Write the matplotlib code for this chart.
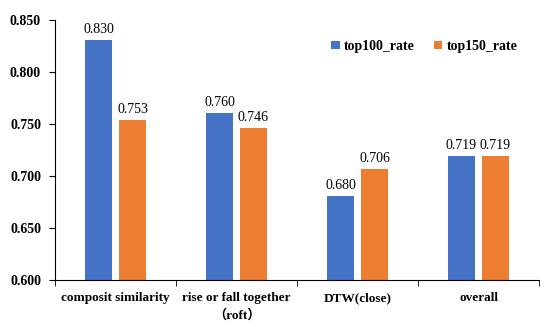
import numpy as np
import matplotlib.pyplot as plt

categories = ['composit similarity', 'rise or fall together\n（roft）', 'DTW(close)', 'overall']
top100 = [0.830, 0.760, 0.680, 0.719]
top150 = [0.753, 0.746, 0.706, 0.719]
yticks = [0.600, 0.650, 0.700, 0.750, 0.800, 0.850]

plt.rcParams['font.family'] = ['Liberation Serif', 'Noto Sans CJK SC']

fig = plt.figure(figsize=(5.5, 3.27), dpi=100)
ax = fig.add_axes([0.1, 0.145, 0.88, 0.795])

x = np.arange(len(categories))
w = 0.22
b1 = ax.bar(x - 0.14, top100, w, color='#4472C4', label='top100_rate')
b2 = ax.bar(x + 0.14, top150, w, color='#ED7D31', label='top150_rate')
for bars, vals in ((b1, top100), (b2, top150)):
    for r, v in zip(bars, vals):
        ax.annotate('%.3f' % v, (r.get_x() + r.get_width() / 2, v), xytext=(0, 3),
                    textcoords='offset points', ha='center', va='bottom', fontsize=10)

ax.set_ylim(0.6, 0.85)
ax.set_xlim(-0.5, len(categories) - 0.5)
ax.set_yticks(yticks)
ax.set_yticklabels(['%.3f' % t for t in yticks], fontsize=10, fontweight='bold')
ax.set_xticks(x)
ax.set_xticklabels(categories, fontsize=9.5, fontweight='bold', linespacing=1.5)
ax.tick_params(axis='x', length=0, pad=9)
ax.set_xticks(np.arange(len(categories) + 1) - 0.5, minor=True)
ax.tick_params(axis='x', which='minor', length=4, direction='out')
ax.tick_params(axis='y', length=4, direction='out', pad=6)
for s in ('top', 'right'):
    ax.spines[s].set_visible(False)

ax.legend(loc='upper left', bbox_to_anchor=(0.545, 0.97), ncol=2, frameon=False,
          prop={'weight': 'bold', 'size': 10}, handlelength=0.6, handleheight=0.6,
          handletextpad=0.3, columnspacing=1.4)

fig.savefig('out.png', dpi=100)
